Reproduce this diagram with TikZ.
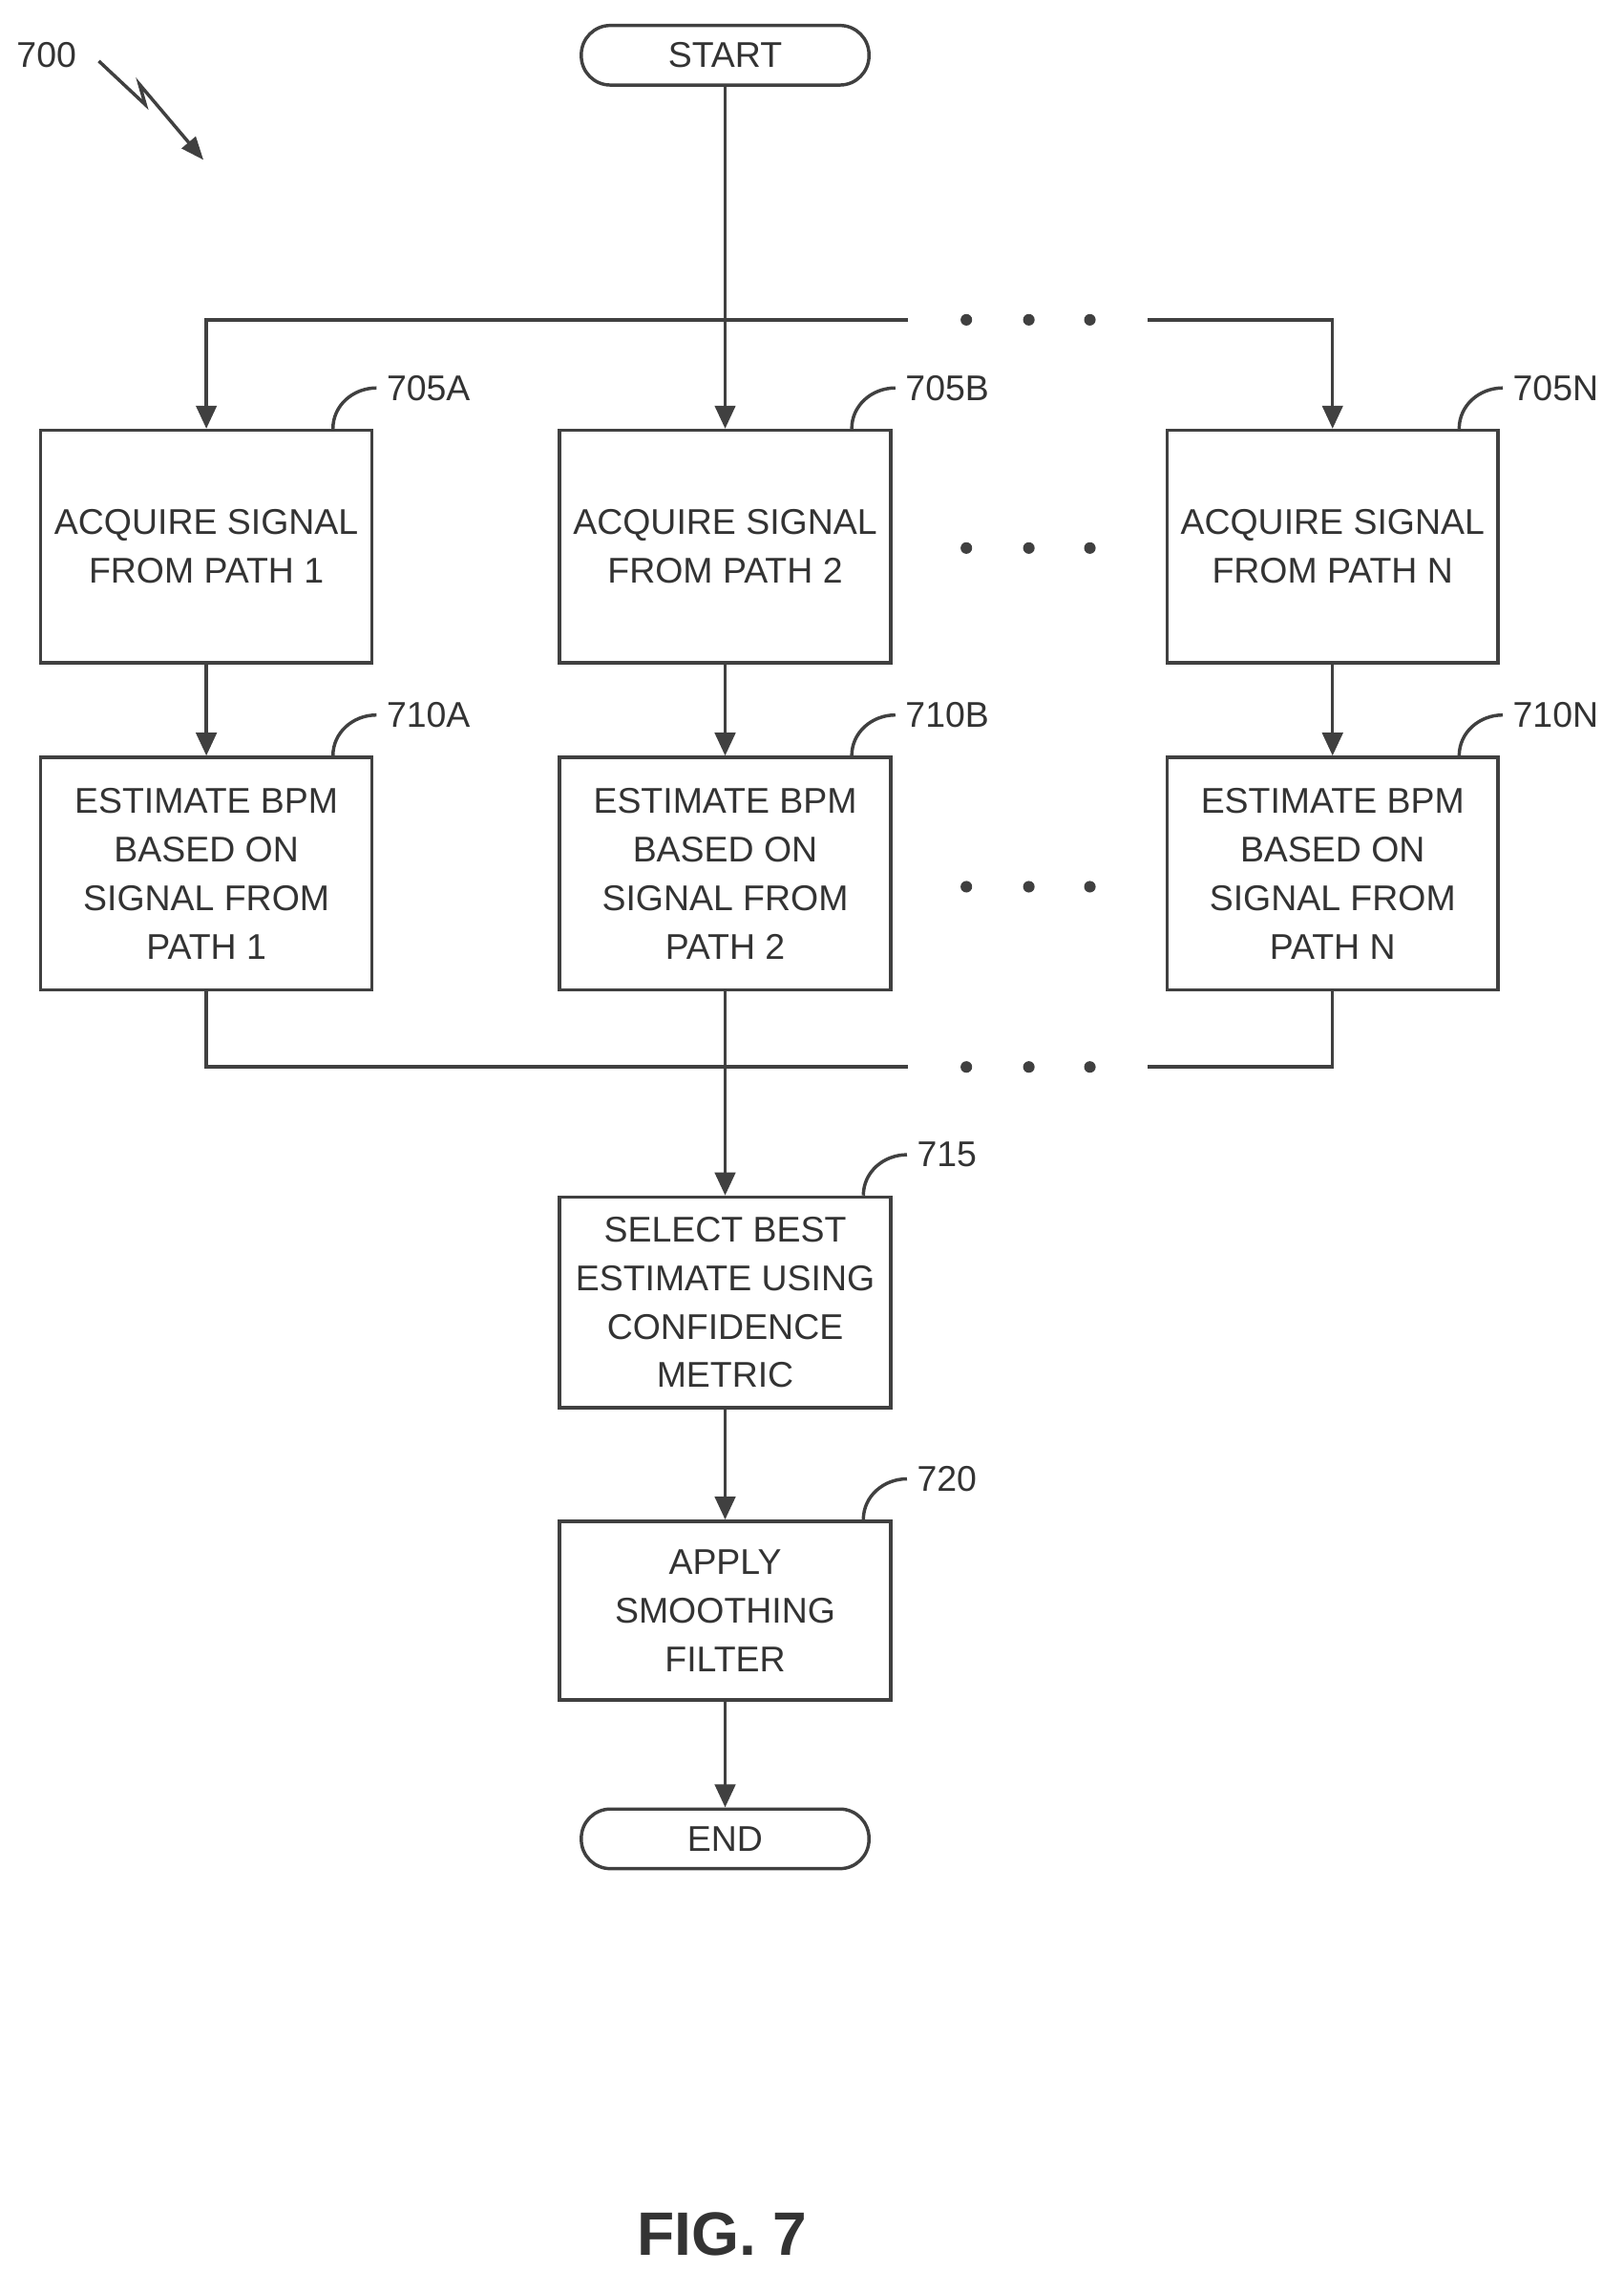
\documentclass[tikz,border=0pt]{standalone}
\usepackage{fontspec}
\setmainfont{Liberation Sans}
\usetikzlibrary{arrows.meta,decorations.pathmorphing}
\begin{document}
\begin{tikzpicture}[x=0.02cm,y=-0.02cm,
  ln/.style={line width=1.3pt,draw=black!75},
  ar/.style={ln,-{Triangle[length=9pt,width=8pt]}},
  box/.style={ln,rectangle,minimum width=4.56cm,align=center,font=\fontsize{14}{19}\selectfont,text=black!80},
  term/.style={ln,rounded corners=0.4cm,minimum width=3.96cm,minimum height=0.82cm,font=\fontsize{14}{17}\selectfont,text=black!80},
  lbl/.style={font=\fontsize{14}{17}\selectfont,text=black!80},
  dot/.style={circle,fill=black!75,inner sep=1.6pt}]
\useasboundingbox (0,0) rectangle (1117,1563);
\node[term] (start) at (499,38) {START};
\node[term] (end) at (499,1265) {END};
\foreach \c/\x/\n in {A/142/1,B/499/2,N/917/N}{
  \node[box,minimum height=3.2cm] (a\c) at (\x,376) {ACQUIRE SIGNAL\\FROM PATH \n};
  \node[box,minimum height=3.2cm] (e\c) at (\x,601) {ESTIMATE BPM\\BASED ON\\SIGNAL FROM\\PATH \n};
  \draw[ar] (a\c) -- (e\c);
  \draw[ln] (a\c.north east)++(-28,0) coordinate (p\c) to[out=90,in=180] ++(30,-28) node[lbl,anchor=west] {705\c};
  \draw[ln] (e\c.north east)++(-28,0) coordinate (q\c) to[out=90,in=180] ++(30,-28) node[lbl,anchor=west] {710\c};
}
\node[box,minimum height=2.9cm] (sel) at (499,896) {SELECT BEST\\ESTIMATE USING\\CONFIDENCE\\METRIC};
\node[box,minimum height=2.46cm] (fil) at (499,1108) {APPLY\\SMOOTHING\\FILTER};
\draw[ln] (sel.north east)++(-20,0) to[out=90,in=180] ++(30,-28) node[lbl,anchor=west] {715};
\draw[ln] (fil.north east)++(-20,0) to[out=90,in=180] ++(30,-28) node[lbl,anchor=west] {720};
\coordinate (t1) at (142,220); \coordinate (t2) at (625,220);
\coordinate (t3) at (790,220); \coordinate (t4) at (917,220);
\draw[ar] (start) -- (aB);
\draw[ar] (t2) -- (t1) -- (aA);
\draw[ar] (t3) -- (t4) -- (aN);
\coordinate (b1) at (142,734); \coordinate (b2) at (625,734);
\coordinate (b3) at (790,734); \coordinate (b4) at (917,734);
\draw[ln] (eA) |- (b2); \draw[ln] (eN) |- (b3);
\draw[ar] (eB) -- (sel);
\draw[ar] (sel) -- (fil);
\draw[ar] (fil) -- (end);
\foreach \y in {220,377,610,734}{\foreach \x in {665,708,750}{\node[dot] (d\x\y) at (\x,\y) {};}}
\node[lbl] (n700) at (32,38) {700};
\coordinate (z1) at (68,42); \coordinate (z2) at (140,110);
\draw[ln,-{Triangle[length=9pt,width=7pt]}] (z1) -- (100,72) -- (96,58) -- (z2);
\node[font=\bfseries\fontsize{24}{28}\selectfont,text=black!80] (fig) at (497,1537) {FIG. 7};
\end{tikzpicture}
\end{document}
